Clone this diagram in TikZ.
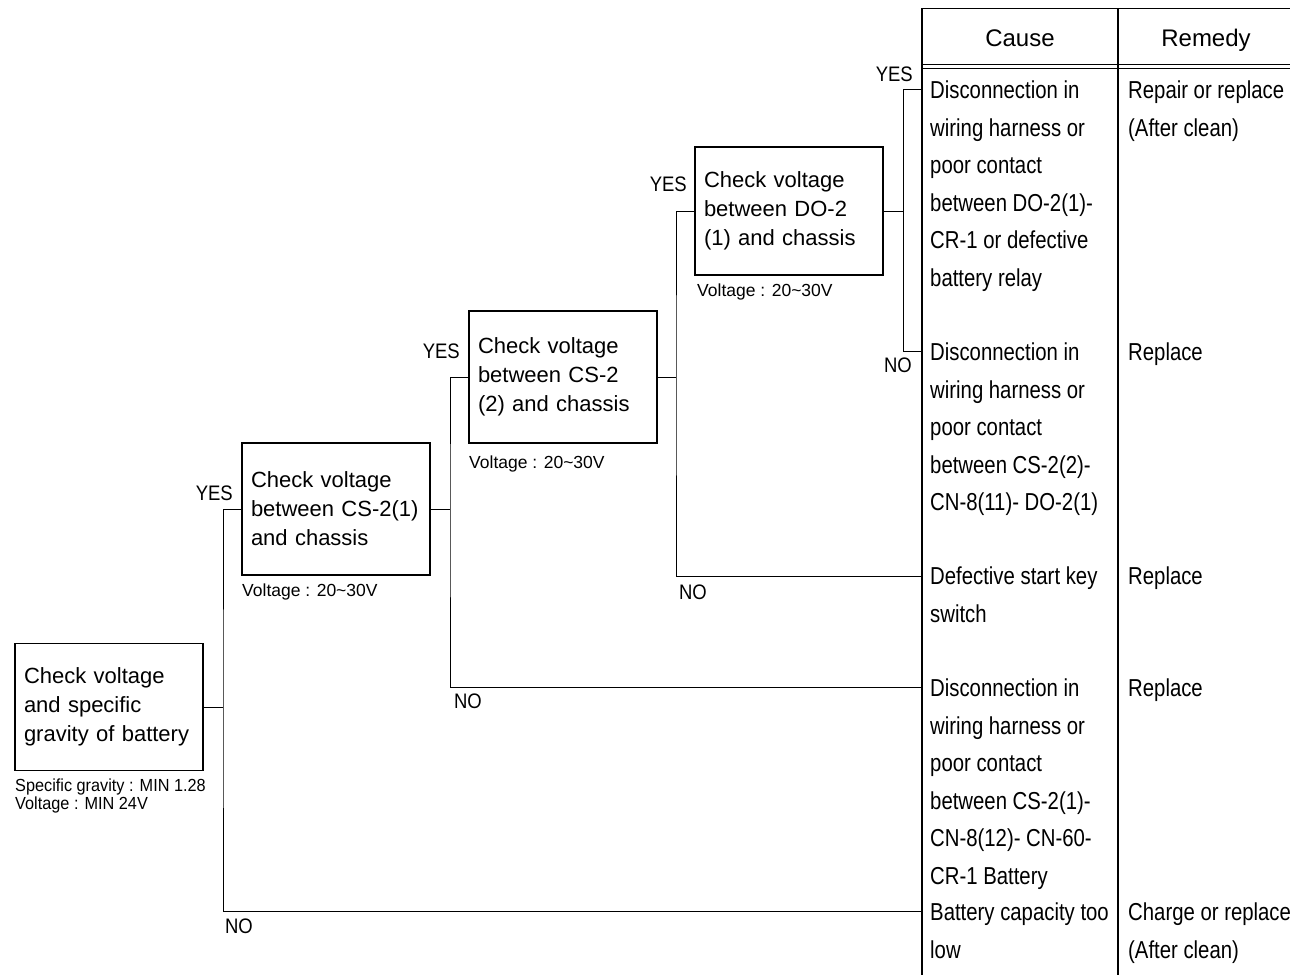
\documentclass[tikz,border=0pt]{standalone}
\usepackage{fontspec}
\setmainfont{Liberation Sans}
\newfontfamily\condfont[FakeStretch=0.83]{Liberation Sans}
\newfontfamily\labfont[FakeStretch=0.88]{Liberation Sans}
\newfontfamily\smallcond[FakeStretch=0.93]{Liberation Sans}
\begin{document}
\begin{tikzpicture}[x=1pt,y=-1pt,
  chkbox/.style={draw, line width=1.2pt, inner xsep=9pt, inner ysep=0pt, text width=170pt, align=left,
     minimum height=#1, font=\fontsize{22}{29}\selectfont},
  conn/.style={line width=0.9pt},
  yn/.style={inner sep=0pt, font=\labfont\fontsize{21}{21}\selectfont, anchor=east},
  note/.style={inner sep=0pt, anchor=base west, font=\fontsize{17.5}{18}\selectfont},
  snote/.style={inner sep=0pt, anchor=base west, font=\smallcond\fontsize{17.5}{18}\selectfont},
  cell/.style={inner sep=0pt, anchor=north west, align=left, font=\condfont\fontsize{24.5}{37.5}\selectfont},
  head/.style={inner sep=0pt, anchor=base, font=\fontsize{24}{24}\selectfont}]
\useasboundingbox (0,0) rectangle (1290,975);

% table
\draw[line width=1.8pt] (922,8) -- (922,975);
\draw[line width=1.2pt] (921,8.5) -- (1290,8.5);
\draw[line width=1.1pt] (1118,8) -- (1118,975);
\draw[line width=0.8pt] (922,64.5) -- (1290,64.5);
\draw[line width=0.8pt] (922,68) -- (1290,68);
\node[head] (hc) at (1020,46.6) {Cause};
\node[head] (hr) at (1206,46.6) {Remedy};

\node[cell] (r1c) at (930,72.5) {\strut Disconnection in\\wiring harness or\\poor contact\\between DO-2(1)-\\CR-1 or defective\\battery relay};
\node[cell] (r1r) at (1128,72.5) {\strut Repair or replace\\(After clean)};
\node[cell] (r2c) at (930,334.5) {\strut Disconnection in\\wiring harness or\\poor contact\\between CS-2(2)-\\CN-8(11)- DO-2(1)};
\node[cell] (r2r) at (1128,334.5) {\strut Replace};
\node[cell] (r3c) at (930,558.5) {\strut Defective start key\\switch};
\node[cell] (r3r) at (1128,558.5) {\strut Replace};
\node[cell] (r4c) at (930,670.5) {\strut Disconnection in\\wiring harness or\\poor contact\\between CS-2(1)-\\CN-8(12)- CN-60-\\CR-1 Battery};
\node[cell] (r4r) at (1128,670.5) {\strut Replace};
\node[cell] (r5c) at (930,894.5) {\strut Battery capacity too\\low};
\node[cell] (r5r) at (1128,894.5) {\strut Charge or replace\\(After clean)};

% connection points on the table edge
\coordinate (c1) at (922,89);
\coordinate (c2) at (922,351);
\coordinate (c3) at (922,576);
\coordinate (c4) at (922,687);
\coordinate (c5) at (922,911);

% check boxes
\node[chkbox=127pt] (b0) at (109,707) {Check voltage\\and specific\\gravity of battery};
\node[chkbox=132pt] (b1) at (336,509) {Check voltage\\between CS-2(1)\\and chassis};
\node[chkbox=132pt] (b2) at (563,377) {Check voltage\\between CS-2\\(2) and chassis};
\node[chkbox=128pt] (b3) at (789,211) {Check voltage\\between DO-2\\(1) and chassis};

% junctions
\coordinate (j0) at (223,707);
\coordinate (j1) at (450,509);
\coordinate (j2) at (676,377);
\coordinate (j3) at (903,211);

% connectors
\draw[conn] (b0.east) -- (j0);
\draw[conn] (b1.west) -| (j0) |- (c5);
\draw[conn] (b1.east) -- (j1);
\draw[conn] (b2.west) -| (j1) |- (c4);
\draw[conn] (b2.east) -- (j2);
\draw[conn] (b3.west) -| (j2) |- (c3);
\draw[conn] (b3.east) -- (j3);
\draw[conn] (c1) -| (j3) |- (c2);

% YES / NO labels
\node[yn] (y1) at (233,493) {YES};
\node[yn] (y2) at (460,351) {YES};
\node[yn] (y3) at (687,184.5) {YES};
\node[yn] (y4) at (913,74.5) {YES};
\node[yn] (n4) at (912,365) {NO};
\node[yn] (n3) at (707,592) {NO};
\node[yn] (n2) at (482,701) {NO};
\node[yn] (n1) at (253,926) {NO};

% notes
\node[note] (v1) at (242,596) {Voltage : 20\textasciitilde30V};
\node[note] (v2) at (469,468) {Voltage : 20\textasciitilde30V};
\node[note] (v3) at (697,296) {Voltage : 20\textasciitilde30V};
\node[snote] (s1) at (15,791) {Specific gravity : MIN 1.28};
\node[snote] (s2) at (15,809) {Voltage : MIN 24V};
\end{tikzpicture}
\end{document}
